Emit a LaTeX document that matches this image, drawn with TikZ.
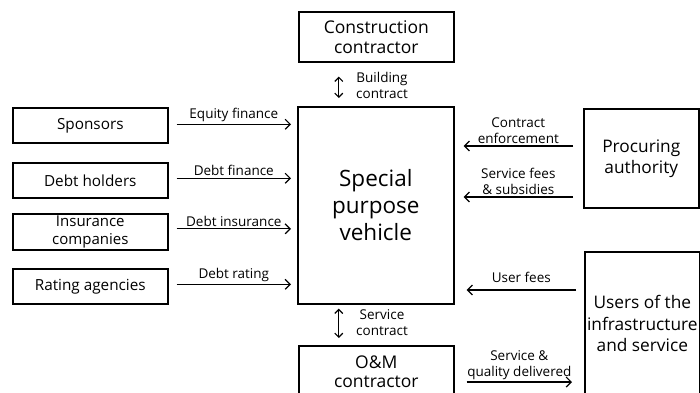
\documentclass[tikz,border=0pt]{standalone}
\usepackage{fontspec}
\setmainfont{Open Sans}
\usetikzlibrary{arrows.meta,calc}
\begin{document}
\begin{tikzpicture}[x=1pt,y=-1pt,
  box/.style={draw, line width=1.6pt, inner sep=0pt, align=center, anchor=north west},
  flow/.style={line width=1.2pt, -{Straight Barb[length=5pt,width=10pt,line width=1.2pt]}},
  both/.style={line width=1.2pt, {Straight Barb[length=4pt,width=8pt,line width=1.2pt]}-{Straight Barb[length=4pt,width=8pt,line width=1.2pt]}},
  lbl/.style={font=\fontsize{13.5}{16}\selectfont, align=center, inner sep=1pt},
  boxtxt/.style={font=\fontsize{15.3}{18}\selectfont}]
\clip (0,0) rectangle (700,392);
\fill[white] (0,0) rectangle (700,392);

% central entity and parties
\node[box, minimum width=156pt, minimum height=197pt, font=\fontsize{22.5}{27}\selectfont] (spv) at (297,106) {Special\\purpose\\vehicle};
\node[box, minimum width=155pt, minimum height=50pt, font=\fontsize{17.5}{20}\selectfont] (cc) at (298,11) {Construction\\contractor};
\node[box, minimum width=155pt, minimum height=52pt, font=\fontsize{17.5}{19}\selectfont] (om) at (298,345) {O\&M\\contractor};
\node[box, minimum width=155pt, minimum height=35pt, boxtxt] (sp) at (12,107) {Sponsors};
\node[box, minimum width=155pt, minimum height=35pt, boxtxt] (dh) at (12,162) {Debt holders};
\node[box, minimum width=155pt, minimum height=36pt, font=\fontsize{15}{18}\selectfont] (ic) at (12,213) {Insurance\\companies};
\node[box, minimum width=155pt, minimum height=35pt, boxtxt] (ra) at (12,268) {Rating agencies};
\node[box, minimum width=115pt, minimum height=99pt, font=\fontsize{17.3}{21}\selectfont] (pa) at (583,108) {Procuring\\authority};
\node[box, minimum width=115pt, minimum height=144pt, font=\fontsize{17.3}{21.5}\selectfont] (us) at (584,251) {Users of the\\infrastructure\\and service};

% contract links
\draw[both] ($(cc.south)+(-37.5,14)$) -- ($(spv.north)+(-37,-8)$);
\node[lbl] (bc) at (382,85) {Building\\contract};
\draw[both] ($(spv.south)+(-37,4)$) -- ($(om.north)+(-37.5,-7)$);
\node[lbl] (sc) at (382,323) {Service\\contract};

% finance flows into the vehicle
\draw[flow] ($(sp.east)+(8,-1)$) -- ($(spv.west |- sp.east)+(-6,-1)$) node[lbl, midway, above=1pt] {Equity finance};
\draw[flow] ($(dh.east)+(8,-2)$) -- ($(spv.west |- dh.east)+(-6,-2)$) node[lbl, midway, above=1pt] {Debt finance};
\draw[flow] ($(ic.east)+(8,-3)$) -- ($(spv.west |- ic.east)+(-6,-3)$) node[lbl, midway, above=1pt] {Debt insurance};
\draw[flow] ($(ra.east)+(8,-2)$) -- ($(spv.west |- ra.east)+(-6,-2)$) node[lbl, midway, above=1pt] {Debt rating};

% flows from the right-hand parties
\draw[flow] ($(pa.north west)+(-10,38)$) -- ($(spv.north east)+(9,40)$) node[lbl, midway, above=1pt] {Contract\\enforcement};
\draw[flow] ($(pa.north west)+(-10,89)$) -- ($(spv.north east)+(9,91)$) node[lbl, midway, above=1pt] {Service fees\\\& subsidies};
\draw[flow] ($(us.north west)+(-8,39)$) -- ($(spv.north east)+(12,184)$) node[lbl, midway, above=6pt] {User fees};
\draw[flow] ($(om.north east)+(12,37)$) -- ($(us.north west)+(-12,131)$) node[lbl, midway, above=1pt] {Service \&\\quality delivered};
\end{tikzpicture}
\end{document}
